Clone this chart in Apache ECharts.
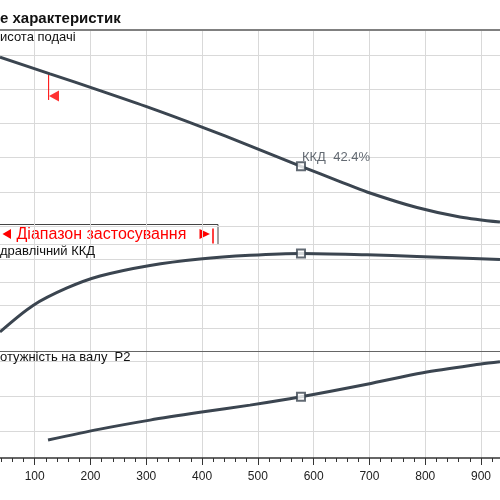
<!DOCTYPE html>
<html>
<head>
<meta charset="utf-8">
<script src="https://cdn.jsdelivr.net/npm/echarts@6/dist/echarts.min.js"></script>
<style>
  html, body { margin: 0; padding: 0; background: #fff; }
  #main { width: 500px; height: 500px; }
</style>
</head>
<body>
<div id="main"></div>
<script>
// витрата Q (вісь X) - [Q, значення]
const headData = [
  [37.8, 11.88], [127.4, 10.90], [217.1, 9.92], [306.7, 8.91], [396.3, 7.83], [485.9, 6.69],
  [577.3, 5.49], [647.2, 4.60], [695.6, 3.99], [785.2, 3.08], [862.3, 2.53], [934, 2.23]
];
const etaData = [
  [37.8, 8.3], [97, 19.8], [158, 27.4], [217.1, 32.6], [306.7, 37.2], [396.3, 40.0],
  [485.9, 41.6], [577.3, 42.4], [695.6, 41.8], [785.2, 41.1], [934, 39.8]
];
const powerData = [
  [123.9, 174.3], [217.1, 205.4], [306.7, 231.1], [396.3, 253.3], [485.9, 274.0],
  [577.3, 298.0], [695.6, 333.7], [796, 366.6], [900, 391.4], [934, 398.0]
];
// робоча точка
const dutyQ = 577.3;
const dutyHead = 5.49;
const dutyEta = 42.4;
const dutyPower = 298;
// початок діапазону застосування
const rangeStartLine = [[125, 10.88], [125, 9.37]];
const rangeStartArrow = [[134.6, 9.6]];

const labels = {
  title: "е характеристик",
  head: "исота подачі",
  eta: "дравлічний ККД",
  power: "отужність на валу  P2",
  range: "Діапазон застосування",
  duty: "ККД  42.4%"
};

const font = "'Liberation Sans', Arial, sans-serif";
const curveColor = "#3b4550";
const gridColor = "#d9d9d9";
const red = "#ff0000";

const gl = -21.1, gw = 557.9;
function grid(top, height) {
  return { left: gl, width: gw, top: top, height: height, outerBoundsMode: "none", containLabel: false };
}
function hiddenX(gi) {
  return { type: "value", gridIndex: gi, min: 0, max: 1000, interval: 100, show: false };
}
function topX(gi, lineColor, lineWidth) {
  return {
    type: "value", gridIndex: gi, position: "top", min: 0, max: 1000, interval: 100,
    axisLine: { show: true, lineStyle: { color: lineColor, width: lineWidth } },
    axisTick: { show: false }, axisLabel: { show: false },
    splitLine: { show: true, lineStyle: { color: gridColor, width: 1 } },
    z: 3
  };
}
function gridY(gi, min, max, interval) {
  return {
    type: "value", gridIndex: gi, min: min, max: max, interval: interval,
    axisLine: { show: false }, axisTick: { show: false }, axisLabel: { show: false },
    splitLine: { show: true, lineStyle: { color: gridColor, width: 1 } }
  };
}
function hiddenY(gi, min, max) {
  return { type: "value", gridIndex: gi, min: min, max: max, show: false };
}
function curve(xi, yi, data) {
  return {
    type: "line", xAxisIndex: xi, yAxisIndex: yi, data: data, smooth: 0.3,
    showSymbol: false, silent: true, z: 5,
    lineStyle: { color: curveColor, width: 3 }
  };
}
function duty(xi, yi, v, label) {
  return {
    type: "scatter", xAxisIndex: xi, yAxisIndex: yi, data: [[dutyQ, v]],
    symbol: "rect", symbolSize: 8, z: 6, silent: true,
    itemStyle: { color: "#fff", borderColor: curveColor, borderWidth: 2 },
    label: label ? {
      show: true, formatter: label, position: [6, -4], align: "left", verticalAlign: "middle",
      color: "#3d4650", fontSize: 13, fontFamily: font
    } : { show: false }
  };
}

const chart = echarts.init(document.getElementById("main"));
chart.setOption({
  animation: false,
  backgroundColor: "#fff",
  grid: [
    grid(30, 214),   // 0 висота (дані)
    grid(30, 196),   // 1 висота (сітка)
    grid(244, 107),  // 2 ККД
    grid(351, 107),  // 3 потужність (дані)
    grid(351, 80)    // 4 потужність (сітка)
  ],
  xAxis: [
    topX(0, "#808080", 2),
    hiddenX(1),
    topX(2, "#666", 1),
    topX(3, "#666", 1),
    {
      type: "value", gridIndex: 3, position: "bottom", min: 0, max: 1000, interval: 100,
      axisLine: { show: true, onZero: false, lineStyle: { color: "#333", width: 1.5 } },
      axisTick: { show: true, length: 7, lineStyle: { color: "#333" } },
      minorTick: { show: true, splitNumber: 5, length: 4, lineStyle: { color: "#333" } },
      axisLabel: { show: true, margin: 13, color: "#222", fontSize: 12, fontFamily: font },
      splitLine: { show: false },
      z: 3
    },
    hiddenX(4)
  ],
  yAxis: [
    hiddenY(0, 0.947, 13.462),
    gridY(1, 2, 13.462, 2),
    gridY(2, 0, 46.52, 10),
    hiddenY(3, 122.9, 428.6),
    gridY(4, 200, 428.6, 100)
  ],
  series: [
    curve(0, 0, headData),
    duty(0, 0, dutyHead, labels.duty),
    {
      type: "line", xAxisIndex: 0, yAxisIndex: 0, data: rangeStartLine, showSymbol: false,
      silent: true, z: 4, lineStyle: { color: red, width: 1 }
    },
    {
      type: "scatter", xAxisIndex: 0, yAxisIndex: 0, data: rangeStartArrow,
      symbol: "triangle", symbolSize: [11, 10], symbolRotate: 90, silent: true, z: 4,
      itemStyle: { color: red }
    },
    curve(2, 2, etaData),
    duty(2, 2, dutyEta),
    curve(3, 3, powerData),
    duty(3, 3, dutyPower)
  ],
  graphic: [
    { type: "text", left: 0, top: 11, z: 10,
      style: { text: labels.title, font: "bold 15px " + font, fill: "#111" } },
    { type: "text", left: 0, top: 31, z: 10,
      style: { text: labels.head, font: "13px " + font, fill: "#111" } },
    { type: "text", left: 0, top: 245, z: 10,
      style: { text: labels.eta, font: "13px " + font, fill: "#111" } },
    { type: "text", left: 0, top: 351, z: 10,
      style: { text: labels.power, font: "13px " + font, fill: "#111" } },
    { type: "group", left: -1, top: 224, z: 10, children: [
      { type: "rect", shape: { x: 0, y: 0, width: 218.5, height: 20 },
        style: { fill: "#fff", stroke: "#444", lineWidth: 1 } },
      { type: "polygon", shape: { points: [[3, 9.5], [11.5, 4.5], [11.5, 14.5]] },
        style: { fill: red } },
      { type: "text", x: 17, y: 10,
        style: { text: labels.range, font: "16px " + font, fill: red, verticalAlign: "middle" } },
      { type: "polygon", shape: { points: [[200, 4.5], [200, 14.5], [210.5, 9.5]] },
        style: { fill: red } },
      { type: "line", shape: { x1: 213.5, y1: 4, x2: 213.5, y2: 19 },
        style: { stroke: red, lineWidth: 1.5 } }
    ] }
  ]
});
</script>
</body>
</html>
